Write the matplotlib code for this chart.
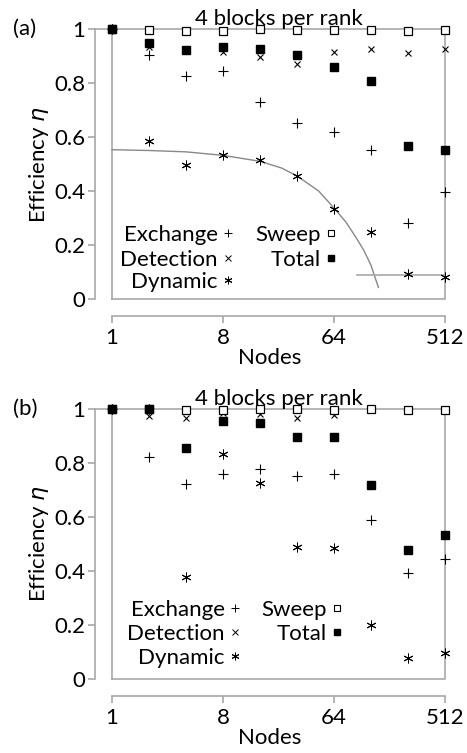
import numpy as np
import matplotlib
matplotlib.use("Agg")
import matplotlib.pyplot as plt
from matplotlib.transforms import offset_copy

plt.rcParams['font.family'] = ['Lato', 'DejaVu Sans']
plt.rcParams['mathtext.fontset'] = 'dejavusans'

# --- data ---
nodes = [1, 2, 4, 8, 16, 32, 64, 128, 256, 512]
x_ticks = [1, 8, 64, 512]
x_tick_labels = ['1', '8', '64', '512']
y_ticks = [0, 0.2, 0.4, 0.6, 0.8, 1.0]
y_tick_labels = ['0', '0.2', '0.4', '0.6', '0.8', '1']

# panel (a)
a_exchange = [1.0, 0.905, 0.827, 0.843, 0.730, 0.652, 0.619, 0.553, 0.281, 0.395]
a_detection = [1.0, 0.933, 0.920, 0.914, 0.896, 0.870, 0.915, 0.927, 0.910, 0.927]
a_dynamic = [1.0, 0.584, 0.495, 0.532, 0.516, 0.454, 0.333, 0.248, 0.094, 0.080]
a_sweep = [1.0, 0.998, 0.994, 0.994, 1.0, 0.998, 0.997, 0.997, 0.991, 0.996]
a_total = [1.0, 0.948, 0.923, 0.932, 0.926, 0.905, 0.859, 0.806, 0.565, 0.551]
# gray fit curve and plateau line in panel (a)
a_fit_nodes = [1, 2, 4, 8, 16, 24, 32, 48, 64, 80, 96, 112, 128, 147]
a_fit_eta = [0.553, 0.550, 0.545, 0.532, 0.510, 0.485, 0.456, 0.400, 0.337, 0.285, 0.230, 0.180, 0.125, 0.043]
a_plateau_nodes = [99, 512]
a_plateau_eta = [0.088, 0.088]

# panel (b)
b_exchange = [1.0, 0.822, 0.720, 0.758, 0.775, 0.751, 0.758, 0.586, 0.390, 0.442]
b_detection = [1.0, 0.973, 0.966, 0.985, 0.978, 0.966, 0.975, 0.995, 0.995, 0.995]
b_dynamic = [1.0, 1.0, 0.378, 0.831, 0.726, 0.487, 0.485, 0.198, 0.078, 0.094]
b_sweep = [1.0, 1.0, 0.996, 0.996, 1.0, 0.998, 0.996, 0.998, 0.995, 0.996]
b_total = [1.0, 1.0, 0.852, 0.955, 0.945, 0.893, 0.893, 0.718, 0.476, 0.533]

GRAY = '#a8a8a8'
FS = 16
ASTER = (6, 2, 0)

fig = plt.figure(figsize=(4.67, 7.53), dpi=100)
ax_a = fig.add_axes([0.2034, 0.6029, 0.7495, 0.3586])
ax_b = fig.add_axes([0.2034, 0.0987, 0.7495, 0.3588])


def style_axes(ax, tag):
    ax.set_xscale('log', base=2)
    ax.set_xlim(2 ** (-17 / 37), 512)
    ax.set_ylim(0, 1)
    ax.patch.set_visible(False)
    for s in ['top', 'right']:
        ax.spines[s].set_visible(False)
    for s in ['left', 'bottom']:
        ax.spines[s].set_color(GRAY)
        ax.spines[s].set_linewidth(1.2)
    ax.spines['left'].set_bounds(0, 1)
    ax.spines['bottom'].set_bounds(1, 512)
    ax.spines['bottom'].set_position(('outward', 12.2))
    ax.set_xticks(x_ticks)
    ax.set_xticklabels(x_tick_labels)
    ax.xaxis.set_minor_locator(matplotlib.ticker.NullLocator())
    ax.set_yticks(y_ticks)
    ax.set_yticklabels(y_tick_labels)
    ax.tick_params(axis='both', length=5, width=1.2, color=GRAY, labelsize=FS, pad=2)
    ax.tick_params(axis='x', pad=4)
    ax.set_xlabel('Nodes', fontsize=FS, labelpad=0)
    ax.set_ylabel('Efficiency $\\eta$', fontsize=FS, labelpad=2)
    # gray frame around the data area
    ax.plot([1, 512, 512, 1, 1], [0, 0, 1, 1, 0], color=GRAY, lw=1.2, clip_on=False, zorder=1)
    ax.plot([ax.get_xlim()[0], 1], [1, 1], color=GRAY, lw=1.2, clip_on=False, zorder=1)
    ax.annotate('4 blocks per rank', xy=(2 ** 4.5, 1.0), xytext=(0, 0), textcoords='offset points',
                ha='center', va='bottom', fontsize=FS, annotation_clip=False)
    ax.text(-0.235, 1.0, tag, transform=ax.transAxes, ha='left', va='center', fontsize=FS)


def draw_series(ax, exch, det, dyn, sweep, total):
    kw = dict(linestyle='none', color='black', clip_on=False)
    ax.plot(nodes, exch, marker='+', markersize=7, markeredgewidth=0.8, zorder=3, **kw)
    ax.plot(nodes, det, marker='x', markersize=4.5, markeredgewidth=0.8, zorder=3, **kw)
    ax.plot(nodes, dyn, marker=ASTER, markersize=7, markeredgewidth=0.7, zorder=3, **kw)
    ax.plot(nodes, sweep, marker='s', markersize=6.2, markerfacecolor='white',
            markeredgecolor='black', markeredgewidth=0.9, zorder=4, **kw)
    ax.plot(nodes, total, marker='s', markersize=6.4, markerfacecolor='black',
            markeredgecolor='black', zorder=5, **kw)


def draw_legend(ax, col_x, row_y):
    entries = [
        (col_x[0], row_y[0], 'Exchange', dict(marker='+', markersize=5.5, markeredgewidth=0.7)),
        (col_x[0], row_y[1], 'Detection', dict(marker='x', markersize=4, markeredgewidth=0.7)),
        (col_x[0], row_y[2], 'Dynamic', dict(marker=ASTER, markersize=5.5, markeredgewidth=0.7)),
        (col_x[1], row_y[0], 'Sweep', dict(marker='s', markersize=5, markerfacecolor='white',
                                           markeredgewidth=0.8)),
        (col_x[1], row_y[1], 'Total', dict(marker='s', markersize=5, markerfacecolor='black')),
    ]
    for fx, fy, label, mk in entries:
        ax.plot([fx], [fy], transform=ax.transAxes, color='black', markeredgecolor='black',
                linestyle='none', **mk)
        tr = offset_copy(ax.transAxes, fig=fig, x=-7.5, y=0, units='points')
        ax.text(fx, fy, label, transform=tr, ha='right', va='center_baseline', fontsize=FS)


style_axes(ax_a, '(a)')
ax_a.plot(a_fit_nodes, a_fit_eta, color='#888888', lw=1.0, zorder=2)
ax_a.plot(a_plateau_nodes, a_plateau_eta, color=GRAY, lw=1.2, zorder=2, clip_on=False)
draw_series(ax_a, a_exchange, a_detection, a_dynamic, a_sweep, a_total)
draw_legend(ax_a, (0.380, 0.674), (0.244, 0.152, 0.070))

style_axes(ax_b, '(b)')
draw_series(ax_b, b_exchange, b_detection, b_dynamic, b_sweep, b_total)
draw_legend(ax_b, (0.400, 0.691), (0.262, 0.173, 0.084))

fig.savefig('out.png', dpi=100)
